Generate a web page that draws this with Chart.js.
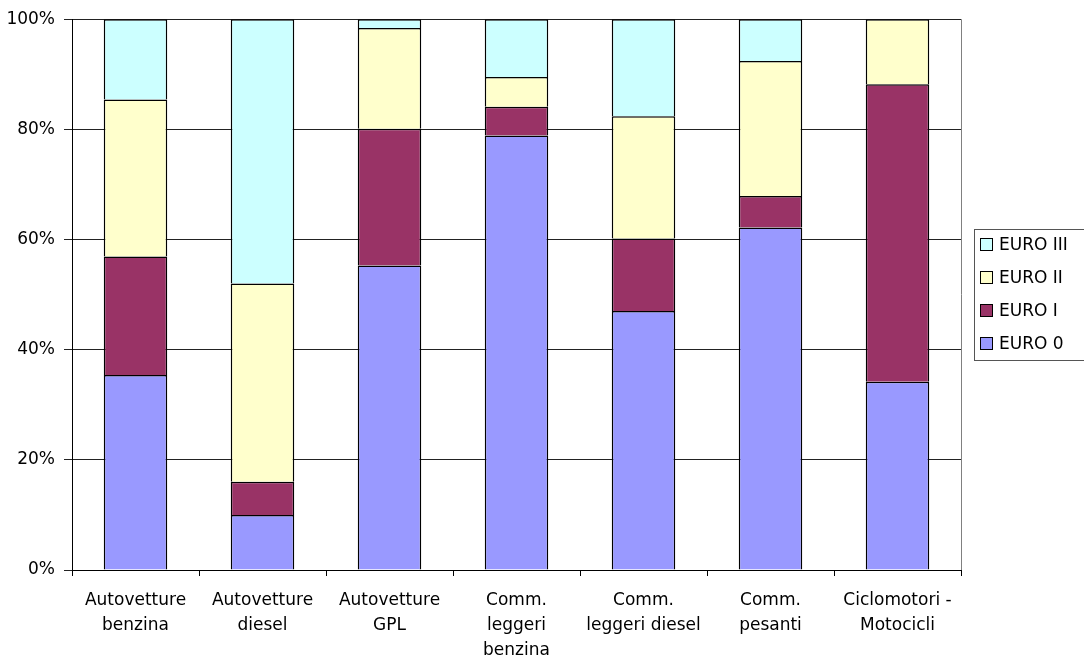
<!DOCTYPE html>
<html>
<head>
<meta charset="utf-8">
<title>Parco veicoli per classe EURO</title>
<script src="https://cdn.jsdelivr.net/npm/chart.js@4.4.1/dist/chart.umd.min.js"></script>
<style>
    html, body { margin: 0; padding: 0; background: #fff; }
    #wrap { width: 1084px; height: 659px; }
</style>
</head>
<body>
<div id="wrap"><canvas id="euroChart" width="1084" height="659"></canvas></div>
<script>
// Categories (multi-line labels as in the original sheet)
const categories = [
    ['Autovetture', 'benzina'],
    ['Autovetture', 'diesel'],
    ['Autovetture', 'GPL'],
    ['Comm.', 'leggeri', 'benzina'],
    ['Comm.', 'leggeri diesel'],
    ['Comm.', 'pesanti'],
    ['Ciclomotori -', 'Motocicli']
];

// Share of each class, in percent
const euro0 = [35.4, 10.0, 55.3, 78.9, 47.0, 62.2, 34.2];
const euro1 = [21.5, 6.0, 24.8, 5.2, 13.2, 5.7, 54.0];
const euro2 = [28.5, 36.0, 18.3, 5.4, 22.2, 24.5, 11.8];
const euro3 = [14.6, 48.0, 1.6, 10.5, 17.6, 7.6, 0];

const seriesNames = ['EURO 0', 'EURO I', 'EURO II', 'EURO III'];
const yTicks = [0, 20, 40, 60, 80, 100];

const FONT = '"DejaVu Sans", Tahoma, Verdana, sans-serif';

document.addEventListener('DOMContentLoaded', function() {
    if (typeof Chart === 'undefined') {
        console.error('Chart.js is not loaded!');
        return;
    }

    // right edge of the plot area + a custom boxed legend like Excel
    const excelFrame = {
        id: 'excelFrame',
        afterDraw(chart) {
            const ctx = chart.ctx;
            const area = chart.chartArea;
            ctx.save();
            ctx.strokeStyle = '#808080';
            ctx.lineWidth = 1;
            ctx.beginPath();
            ctx.moveTo(Math.round(area.right) + 0.5, area.top);
            ctx.lineTo(Math.round(area.right) + 0.5, area.bottom);
            ctx.stroke();

            // legend box
            const left = 974, top = 229, bottom = 360;
            ctx.strokeStyle = '#555';
            ctx.strokeRect(left + 0.5, top + 0.5, 200, bottom - top);

            ctx.font = '17px ' + FONT;
            ctx.textBaseline = 'middle';
            const ds = chart.data.datasets.slice().reverse();
            ds.forEach((d, i) => {
                const cy = 245 + i * 33;
                ctx.fillStyle = d.backgroundColor;
                ctx.fillRect(980, cy - 7, 13, 13);
                ctx.strokeStyle = '#000';
                ctx.strokeRect(980.5, cy - 6.5, 12, 12);
                ctx.fillStyle = '#000';
                ctx.fillText(d.label, 999, cy + 1);
            });
            ctx.restore();
        }
    };

    const ctx = document.getElementById('euroChart').getContext('2d');
    try {
        new Chart(ctx, {
            type: 'bar',
            data: {
                labels: categories,
                datasets: [
                    { label: seriesNames[0], data: euro0, backgroundColor: '#9999FF' },
                    { label: seriesNames[1], data: euro1, backgroundColor: '#993366' },
                    { label: seriesNames[2], data: euro2, backgroundColor: '#FFFFCC' },
                    { label: seriesNames[3], data: euro3, backgroundColor: '#CCFFFF' }
                ].map(d => Object.assign(d, {
                    borderColor: '#000',
                    borderWidth: 1.5,
                    borderSkipped: 'start',
                    barPercentage: 0.5,
                    categoryPercentage: 1.0
                }))
            },
            options: {
                responsive: false,
                animation: false,
                layout: {
                    padding: { top: 19, right: 123, bottom: 0, left: 0 }
                },
                plugins: {
                    legend: { display: false },
                    tooltip: { enabled: false }
                },
                scales: {
                    x: {
                        stacked: true,
                        afterFit: function(axis) { axis.height = 89; },
                        grid: {
                            drawOnChartArea: false,
                            drawTicks: true,
                            tickLength: 6,
                            color: '#000'
                        },
                        border: { color: '#000', width: 1 },
                        ticks: {
                            color: '#000',
                            padding: 12,
                            maxRotation: 0,
                            autoSkip: false,
                            font: { family: FONT, size: 17, lineHeight: 1.47 }
                        }
                    },
                    y: {
                        stacked: true,
                        min: 0,
                        max: 100,
                        afterFit: function(axis) { axis.width = 72; },
                        afterBuildTicks: function(axis) {
                            axis.ticks = yTicks.map(v => ({ value: v }));
                        },
                        grid: {
                            color: '#222',
                            tickLength: 8,
                            drawTicks: true
                        },
                        border: { color: '#000', width: 1 },
                        ticks: {
                            color: '#000',
                            padding: 9,
                            font: { family: FONT, size: 17 },
                            callback: function(value) { return value + '%'; }
                        }
                    }
                }
            },
            plugins: [excelFrame]
        });
    } catch (error) {
        console.error('Error creating chart:', error);
    }
});
</script>
</body>
</html>
